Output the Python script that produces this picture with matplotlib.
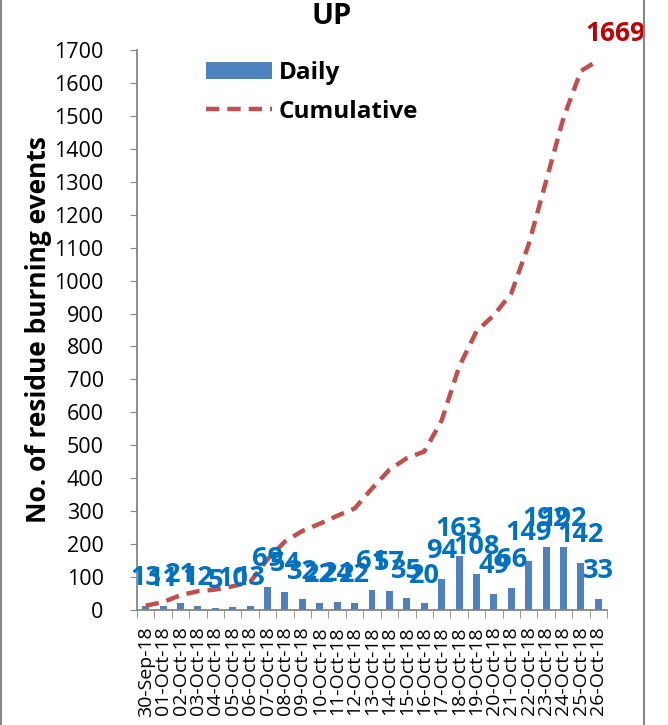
import matplotlib
matplotlib.use("Agg")
import matplotlib.pyplot as plt
import numpy as np
from matplotlib.patches import Rectangle

dates = ["30-Sep-18"] + [f"{d:02d}-Oct-18" for d in range(1, 27)]
daily = [13, 11, 21, 12, 5, 10, 13, 69, 54, 32, 22, 24, 22, 61, 57,
         35, 20, 94, 163, 108, 49, 66, 149, 192, 192, 142, 33]
cumulative = np.cumsum(daily)

plt.rcParams['font.family'] = ['Open Sans', 'DejaVu Sans']

fig = plt.figure(figsize=(6.68, 7.25), dpi=100)
ax = fig.add_axes([137/668, 1 - 610/725, 470/668, 560/725])

x = np.arange(len(dates))
bars = ax.bar(x, daily, width=0.4, color='#4F81BD', label='Daily', zorder=2)
line, = ax.plot(x, cumulative, color='#C0504D', lw=3.2, ls=(0, (3, 1.8)),
                label='Cumulative', zorder=3)

for xi, v in zip(x, daily):
    ax.annotate(str(v), (xi, v), xytext=(0, 20), textcoords='offset points',
                ha='center', va='center', color='#0070C0',
                fontsize=19.5, fontweight='bold', zorder=4)

ax.annotate(str(cumulative[-1]), (x[-1], cumulative[-1]), xytext=(12, 19),
            textcoords='offset points', ha='center', va='center',
            color='#C00000', fontsize=19, fontweight='bold',
            annotation_clip=False)

ax.set_xlim(-0.5, len(dates) - 0.5)
ax.set_ylim(0, 1700)
ax.set_yticks(range(0, 1701, 100))
ax.tick_params(axis='y', labelsize=15.5, length=5, color='#868686', pad=19)
ax.set_xticks(x)
ax.set_xticklabels(dates, rotation=90, fontsize=14)
ax.tick_params(axis='x', length=0, pad=12)
ax.set_xticks(np.arange(-0.5, len(dates)), minor=True)
ax.tick_params(axis='x', which='minor', length=6, color='#868686')

for s in ['top', 'right']:
    ax.spines[s].set_visible(False)
for s in ['left', 'bottom']:
    ax.spines[s].set_color('#868686')
    ax.spines[s].set_linewidth(1.3)

ax.set_ylabel('No. of residue burning events', fontsize=19, fontweight='bold',
              labelpad=2)
fig.text(332/668, 1 - 17/725, 'UP', ha='center', va='center',
         fontsize=21, fontweight='bold')

leg = ax.legend([bars, line], ['Daily', 'Cumulative'], loc='upper left',
                bbox_to_anchor=(0.1, 1.02), frameon=False,
                prop={'size': 17.5, 'weight': 'bold'}, handlelength=2.7,
                handleheight=0.7, handletextpad=0.3, labelspacing=0.62)

fig.patches.append(Rectangle((1/668, -0.01), 643/668, 1.02,
                             transform=fig.transFigure, fill=False,
                             edgecolor='#868686', lw=1.5))

fig.savefig('out.png', dpi=100)
